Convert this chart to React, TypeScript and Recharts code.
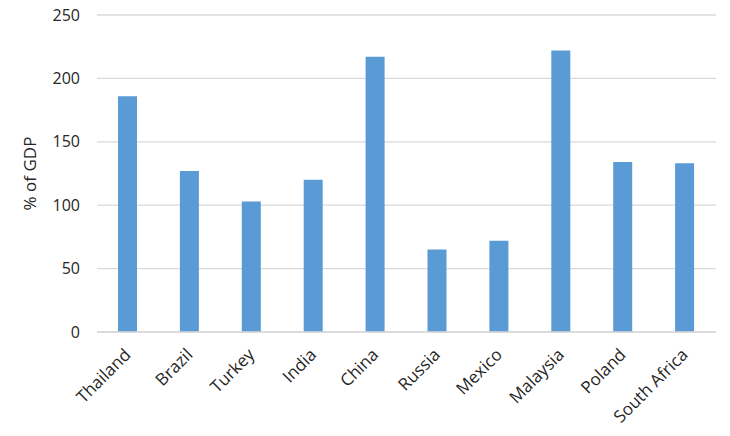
import React from "react";
import { BarChart, Bar, XAxis, YAxis, CartesianGrid } from "recharts";

const countries = ["Thailand", "Brazil", "Turkey", "India", "China", "Russia", "Mexico", "Malaysia", "Poland", "South Africa"];
const debtPctGdp = [186, 127, 103, 120, 217, 65, 72, 222, 134, 133];
const yTicks = [0, 50, 100, 150, 200, 250];

const data = countries.map((c, i) => ({ country: c, value: debtPctGdp[i] }));

const FONT = "'Open Sans', 'Liberation Sans', sans-serif";

const XTick = (props: any) => {
  const { x, y, payload } = props;
  return (
    <g transform={`translate(${x + 1},${y + 13})`}>
      <text x={0} y={0} dy={4} textAnchor="end" transform="rotate(-45)" fontSize={17} fill="#262626" fontFamily={FONT}>
        {payload.value}
      </text>
    </g>
  );
};

export default function App() {
  return (
    <div style={{ position: "absolute", left: 0, top: 0, width: 730, height: 436, background: "#fff" }}>
      <BarChart width={730} height={436} data={data} margin={{ top: 15, right: 14, bottom: 0, left: 0 }}>
        <CartesianGrid vertical={false} stroke="#d9d9d9" strokeWidth={1.3} />
        <XAxis
          dataKey="country"
          interval={0}
          tickLine={false}
          axisLine={{ stroke: "#d9d9d9", strokeWidth: 1.3 }}
          tick={<XTick />}
          height={104}
        />
        <YAxis
          width={97}
          domain={[0, 250]}
          ticks={yTicks}
          tickLine={false}
          axisLine={false}
          tickSize={0}
          tickMargin={17}
          tick={{ fontSize: 16, fill: "#262626", fontFamily: FONT }}
          label={{ value: "% of GDP", angle: -90, position: "insideLeft", dx: 25, fontSize: 17, fill: "#262626", fontFamily: FONT, style: { textAnchor: "middle" } }}
        />
        <Bar dataKey="value" fill="#5b9bd5" barSize={19} isAnimationActive={false} />
      </BarChart>
    </div>
  );
}
